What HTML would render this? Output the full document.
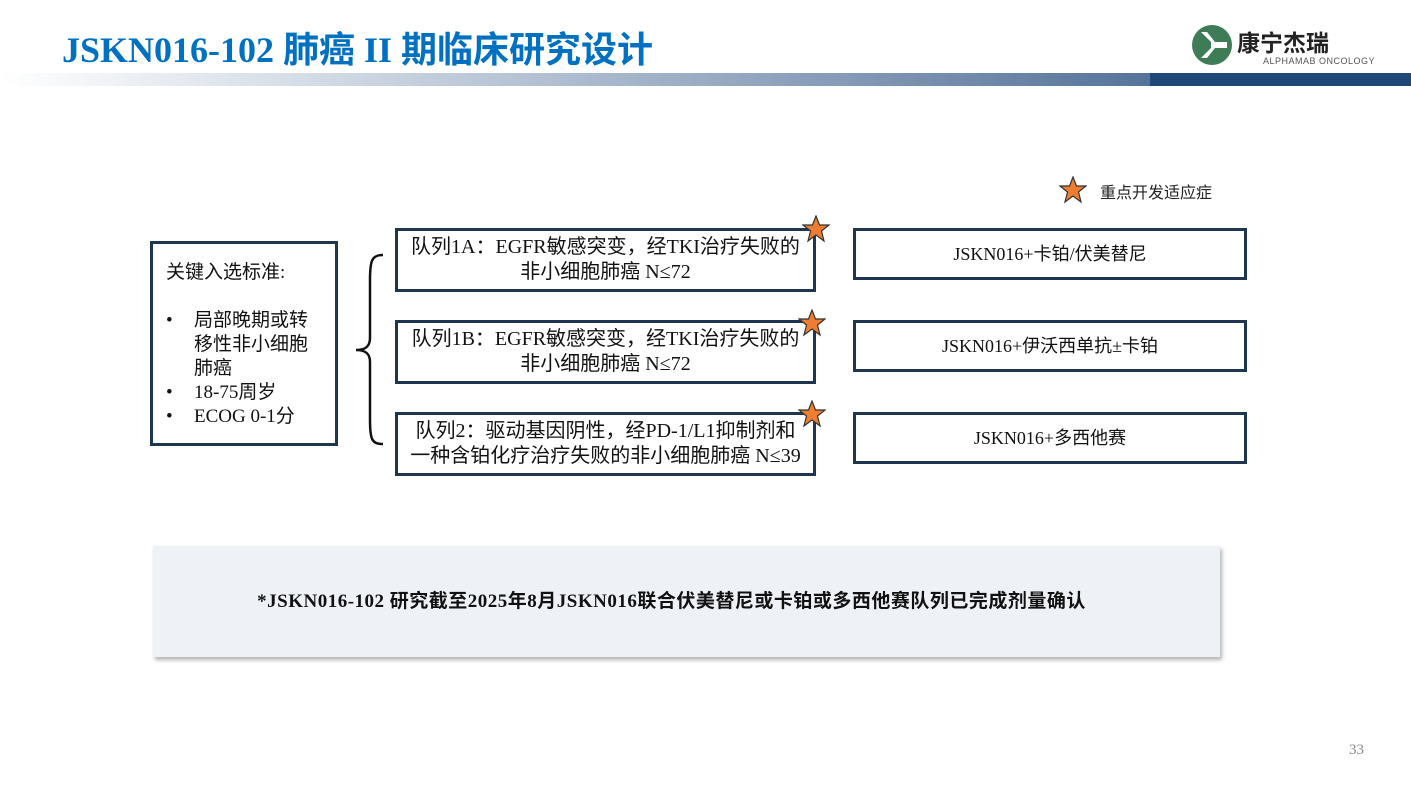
<!DOCTYPE html>
<html><head><meta charset="utf-8"><style>
body{margin:0;width:1411px;height:785px;position:relative;background:#fff;font-family:"Liberation Serif","Noto Sans CJK SC",serif;overflow:hidden}
.a{position:absolute}
.box{position:absolute;border:3px solid #1f3650;box-sizing:border-box;background:#fff}
.c{display:flex;align-items:center;justify-content:center;text-align:center;font-size:20px;line-height:25px;color:#111;white-space:nowrap}
.star{position:absolute;width:28px;height:28px}
</style></head><body>
<div class="a" style="left:62px;top:21px;font-size:36px;font-weight:bold;color:#0070c0;white-space:nowrap">JSKN016-102 肺癌 II 期临床研究设计</div>
<div class="a" style="left:0;top:73px;width:1411px;height:13px;background:linear-gradient(90deg,#fff 0%,#b9c6d6 35%,#4e6d95 85%,#1f4778 100%)"></div>
<div class="a" style="left:1150px;top:73px;width:261px;height:13px;background:#1f4778"></div>
<svg class="a" style="left:1191px;top:24px" width="42" height="42" viewBox="0 0 42 42"><circle cx="21" cy="21" r="20" fill="#3e7b57"/><path d="M10 8 L20 18 L20 24 L10 34 L16 34 L24 24 L36 24 L36 18 L24 18 L16 8Z" fill="#fff"/></svg>
<div class="a" style="left:1237px;top:28px;font-size:23px;font-family:'Noto Sans CJK SC',sans-serif;color:#222;font-weight:bold;line-height:26px">康宁杰瑞</div>
<div class="a" style="left:1263px;top:56px;font-size:9px;font-family:'Liberation Sans',sans-serif;color:#555;letter-spacing:0.5px">ALPHAMAB ONCOLOGY</div>

<svg class="star" style="left:1059px;top:176px" viewBox="0 0 28 28"><polygon points="14,1 17.5,10 27,10 19.5,16 22,26 14,20 6,26 8.5,16 1,10 10.5,10" fill="#ed7d31" stroke="#333" stroke-width="1.2"/></svg>
<div class="a" style="left:1100px;top:179px;font-size:16px;font-family:'Noto Sans CJK SC',sans-serif;color:#222">重点开发适应症</div>

<div class="box" style="left:150px;top:241px;width:188px;height:205px;padding:17px 0 0 13px;font-size:19px;line-height:24px;color:#111">
<div>关键入选标准:</div><div style="height:24px"></div>
<div style="display:flex"><span style="width:28px">•</span><span style="width:128px">局部晚期或转移性非小细胞肺癌</span></div>
<div style="display:flex"><span style="width:28px">•</span><span>18-75周岁</span></div>
<div style="display:flex"><span style="width:28px">•</span><span>ECOG 0-1分</span></div>
</div>
<svg class="a" style="left:350px;top:250px" width="40" height="200"><path d="M33 5 C22 5 20 10 20 30 L20 88 C20 96 16 100 6 100 C16 100 20 104 20 112 L20 170 C20 190 22 194 33 194" fill="none" stroke="#111" stroke-width="2.5"/></svg>

<div class="box c" style="left:395px;top:228px;width:421px;height:64px">队列1A：EGFR敏感突变，经TKI治疗失败的<br>非小细胞肺癌 N≤72</div>
<div class="box c" style="left:395px;top:320px;width:421px;height:64px">队列1B：EGFR敏感突变，经TKI治疗失败的<br>非小细胞肺癌 N≤72</div>
<div class="box c" style="left:395px;top:412px;width:421px;height:64px">队列2：驱动基因阴性，经PD-1/L1抑制剂和<br>一种含铂化疗治疗失败的非小细胞肺癌 N≤39</div>
<svg class="star" style="left:802px;top:215px" viewBox="0 0 28 28"><polygon points="14,1 17.5,10 27,10 19.5,16 22,26 14,20 6,26 8.5,16 1,10 10.5,10" fill="#ed7d31" stroke="#333" stroke-width="1.2"/></svg>
<svg class="star" style="left:798px;top:309px" viewBox="0 0 28 28"><polygon points="14,1 17.5,10 27,10 19.5,16 22,26 14,20 6,26 8.5,16 1,10 10.5,10" fill="#ed7d31" stroke="#333" stroke-width="1.2"/></svg>
<svg class="star" style="left:798px;top:400px" viewBox="0 0 28 28"><polygon points="14,1 17.5,10 27,10 19.5,16 22,26 14,20 6,26 8.5,16 1,10 10.5,10" fill="#ed7d31" stroke="#333" stroke-width="1.2"/></svg>

<div class="box c" style="left:853px;top:228px;width:394px;height:52px;font-size:18px">JSKN016+卡铂/伏美替尼</div>
<div class="box c" style="left:853px;top:320px;width:394px;height:52px;font-size:18px">JSKN016+伊沃西单抗±卡铂</div>
<div class="box c" style="left:853px;top:412px;width:394px;height:52px;font-size:18px">JSKN016+多西他赛</div>

<div class="a c" style="left:153px;top:546px;width:1067px;height:111px;background:#eef1f6;box-shadow:2px 3px 4px rgba(0,0,0,0.3);font-weight:bold;font-size:19px;letter-spacing:0.5px;padding-right:30px;box-sizing:border-box">*JSKN016-102 研究截至2025年8月JSKN016联合伏美替尼或卡铂或多西他赛队列已完成剂量确认</div>
<div class="a" style="left:1349px;top:742px;font-size:15px;color:#888">33</div>
</body></html>
